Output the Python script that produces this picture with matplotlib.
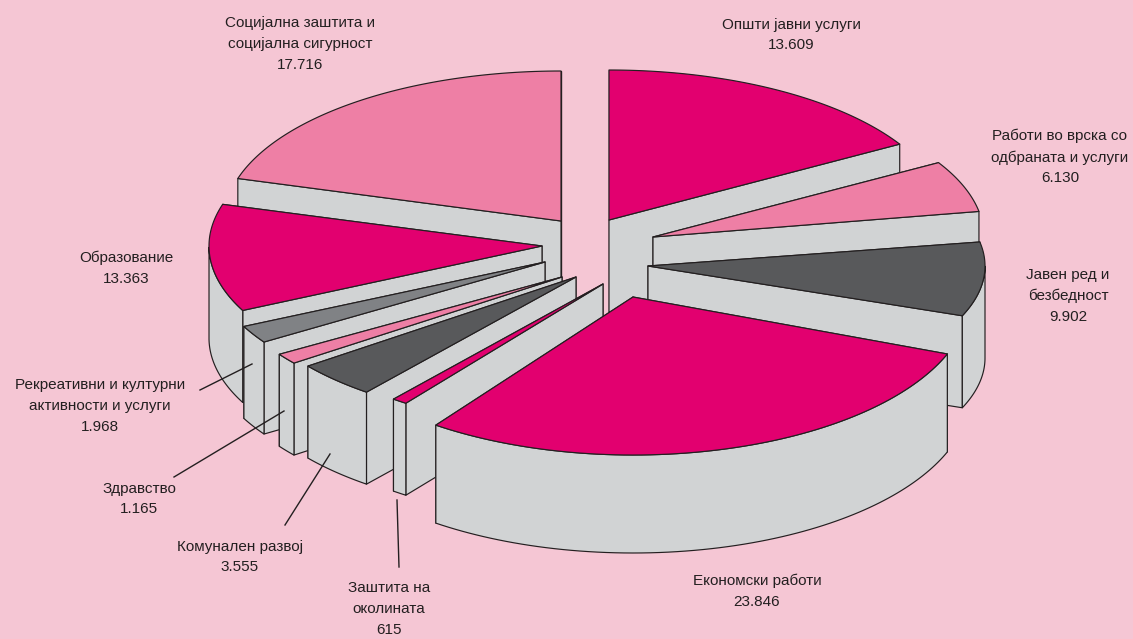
"""Расходи по функции - експлодирана 3Д пита, цртана рачно од вредностите."""
import numpy as np
import matplotlib
matplotlib.use("Agg")
import matplotlib.pyplot as plt
from matplotlib.patches import Polygon

names = [
    "Општи јавни услуги",
    "Работи во врска со\nодбраната и услуги",
    "Јавен ред и\nбезбедност",
    "Економски работи",
    "Заштита на\nоколината",
    "Комунален развој",
    "Здравство",
    "Рекреативни и културни\nактивности и услуги",
    "Образование",
    "Социјална заштита и\nсоцијална сигурност",
]
values = [13609, 6130, 9902, 23846, 615, 3555, 1165, 1968, 13363, 17716]

# layout: pomestuvanje na sekoj del (px), radiusi, dlabocina i polozba na natpisite
PINK, MAGENTA, DARK, MID = "#ee7fa5", "#e2006f", "#58595b", "#808285"
colors = [MAGENTA, PINK, DARK, MAGENTA, MAGENTA, DARK, PINK, MID, MAGENTA, PINK]
center = (590, 250)
explode = [(19, -30), (63, -13), (58, 16), (43, 47), (13, 34),
           (-14, 27), (-28, 27), (-45, 12), (-48, -4), (-29, -29)]
rx = [337, 331, 337, 337, 337, 337, 337, 335, 333, 337]
ry = [150, 147, 138, 158, 147, 147, 142, 147, 147, 150]
depth = [92, 92, 92, 98, 92, 92, 92, 92, 92, 92]
label_xy = [(791, 35), (1060, 157), (1068, 296), (757, 591), (389, 609),
            (240, 557), (139, 499), (100, 406), (126, 268), (300, 44)]
leaders = [((200, 390), (252, 364)), ((174, 477), (284, 411)),
           ((285, 525), (330, 454)), ((399, 567), (397, 500))]
draw_order = [0, 9, 1, 8, 2, 7, 6, 5, 4, 3]

STRETCH = 1.27
BG, WALL, EDGE = "#f5c6d4", "#d1d3d4", "#231f20"
LW = 0.85


def rim(theta, a, b):
    """Точка на раб на елипсата (theta во степени, од врвот во насока на стрелките)."""
    t = np.radians(theta)
    x, y = STRETCH * np.sin(t), np.cos(t)
    n = np.hypot(x, y)
    return np.column_stack([a * x / n, -b * y / n])


def patch(ax, pts, color, z):
    ax.add_patch(Polygon(pts, closed=True, fc=color, ec=EDGE, lw=LW, joinstyle="round", zorder=z))


plt.rcParams["font.family"] = ["Liberation Sans", "DejaVu Sans"]
fig = plt.figure(figsize=(11.33, 6.39), dpi=100, facecolor=BG)
ax = fig.add_axes([0, 0, 1, 1])
ax.set_xlim(0, 1133)
ax.set_ylim(639, 0)
ax.axis("off")

angles = np.concatenate([[0], np.cumsum(values) / np.sum(values) * 360])
z = 1
for i in draw_order:
    th = np.linspace(angles[i], angles[i + 1], 80)
    apex = np.array([center[0] + explode[i][0], center[1] + explode[i][1]])
    arc = apex + rim(th, rx[i], ry[i])
    down = np.array([0, depth[i]])

    # strani: prvo zadnata pa prednata
    for p in sorted([arc[0], arc[-1]], key=lambda p: p[1]):
        patch(ax, [apex, p, p + down, apex + down], WALL, z)
        z += 1

    # nadvoresen yid samo za predniot del od elipsata
    front = th[(th >= 90) & (th <= 270)]
    if len(front) > 1:
        fa = apex + rim(front, rx[i], ry[i])
        patch(ax, np.vstack([fa, (fa + down)[::-1]]), WALL, z)
        z += 1

    patch(ax, np.vstack([apex, arc]), colors[i], z)
    z += 1

for p, q in leaders:
    ax.plot([p[0], q[0]], [p[1], q[1]], color=EDGE, lw=1.0, zorder=z)

for name, v, (x, y) in zip(names, values, label_xy):
    txt = name + "\n" + f"{v:,}".replace(",", ".")
    ax.text(x, y, txt, ha="center", va="center", fontsize=11, color=EDGE,
            linespacing=1.6, zorder=z + 1)

fig.savefig("out.png", dpi=100, facecolor=BG)
